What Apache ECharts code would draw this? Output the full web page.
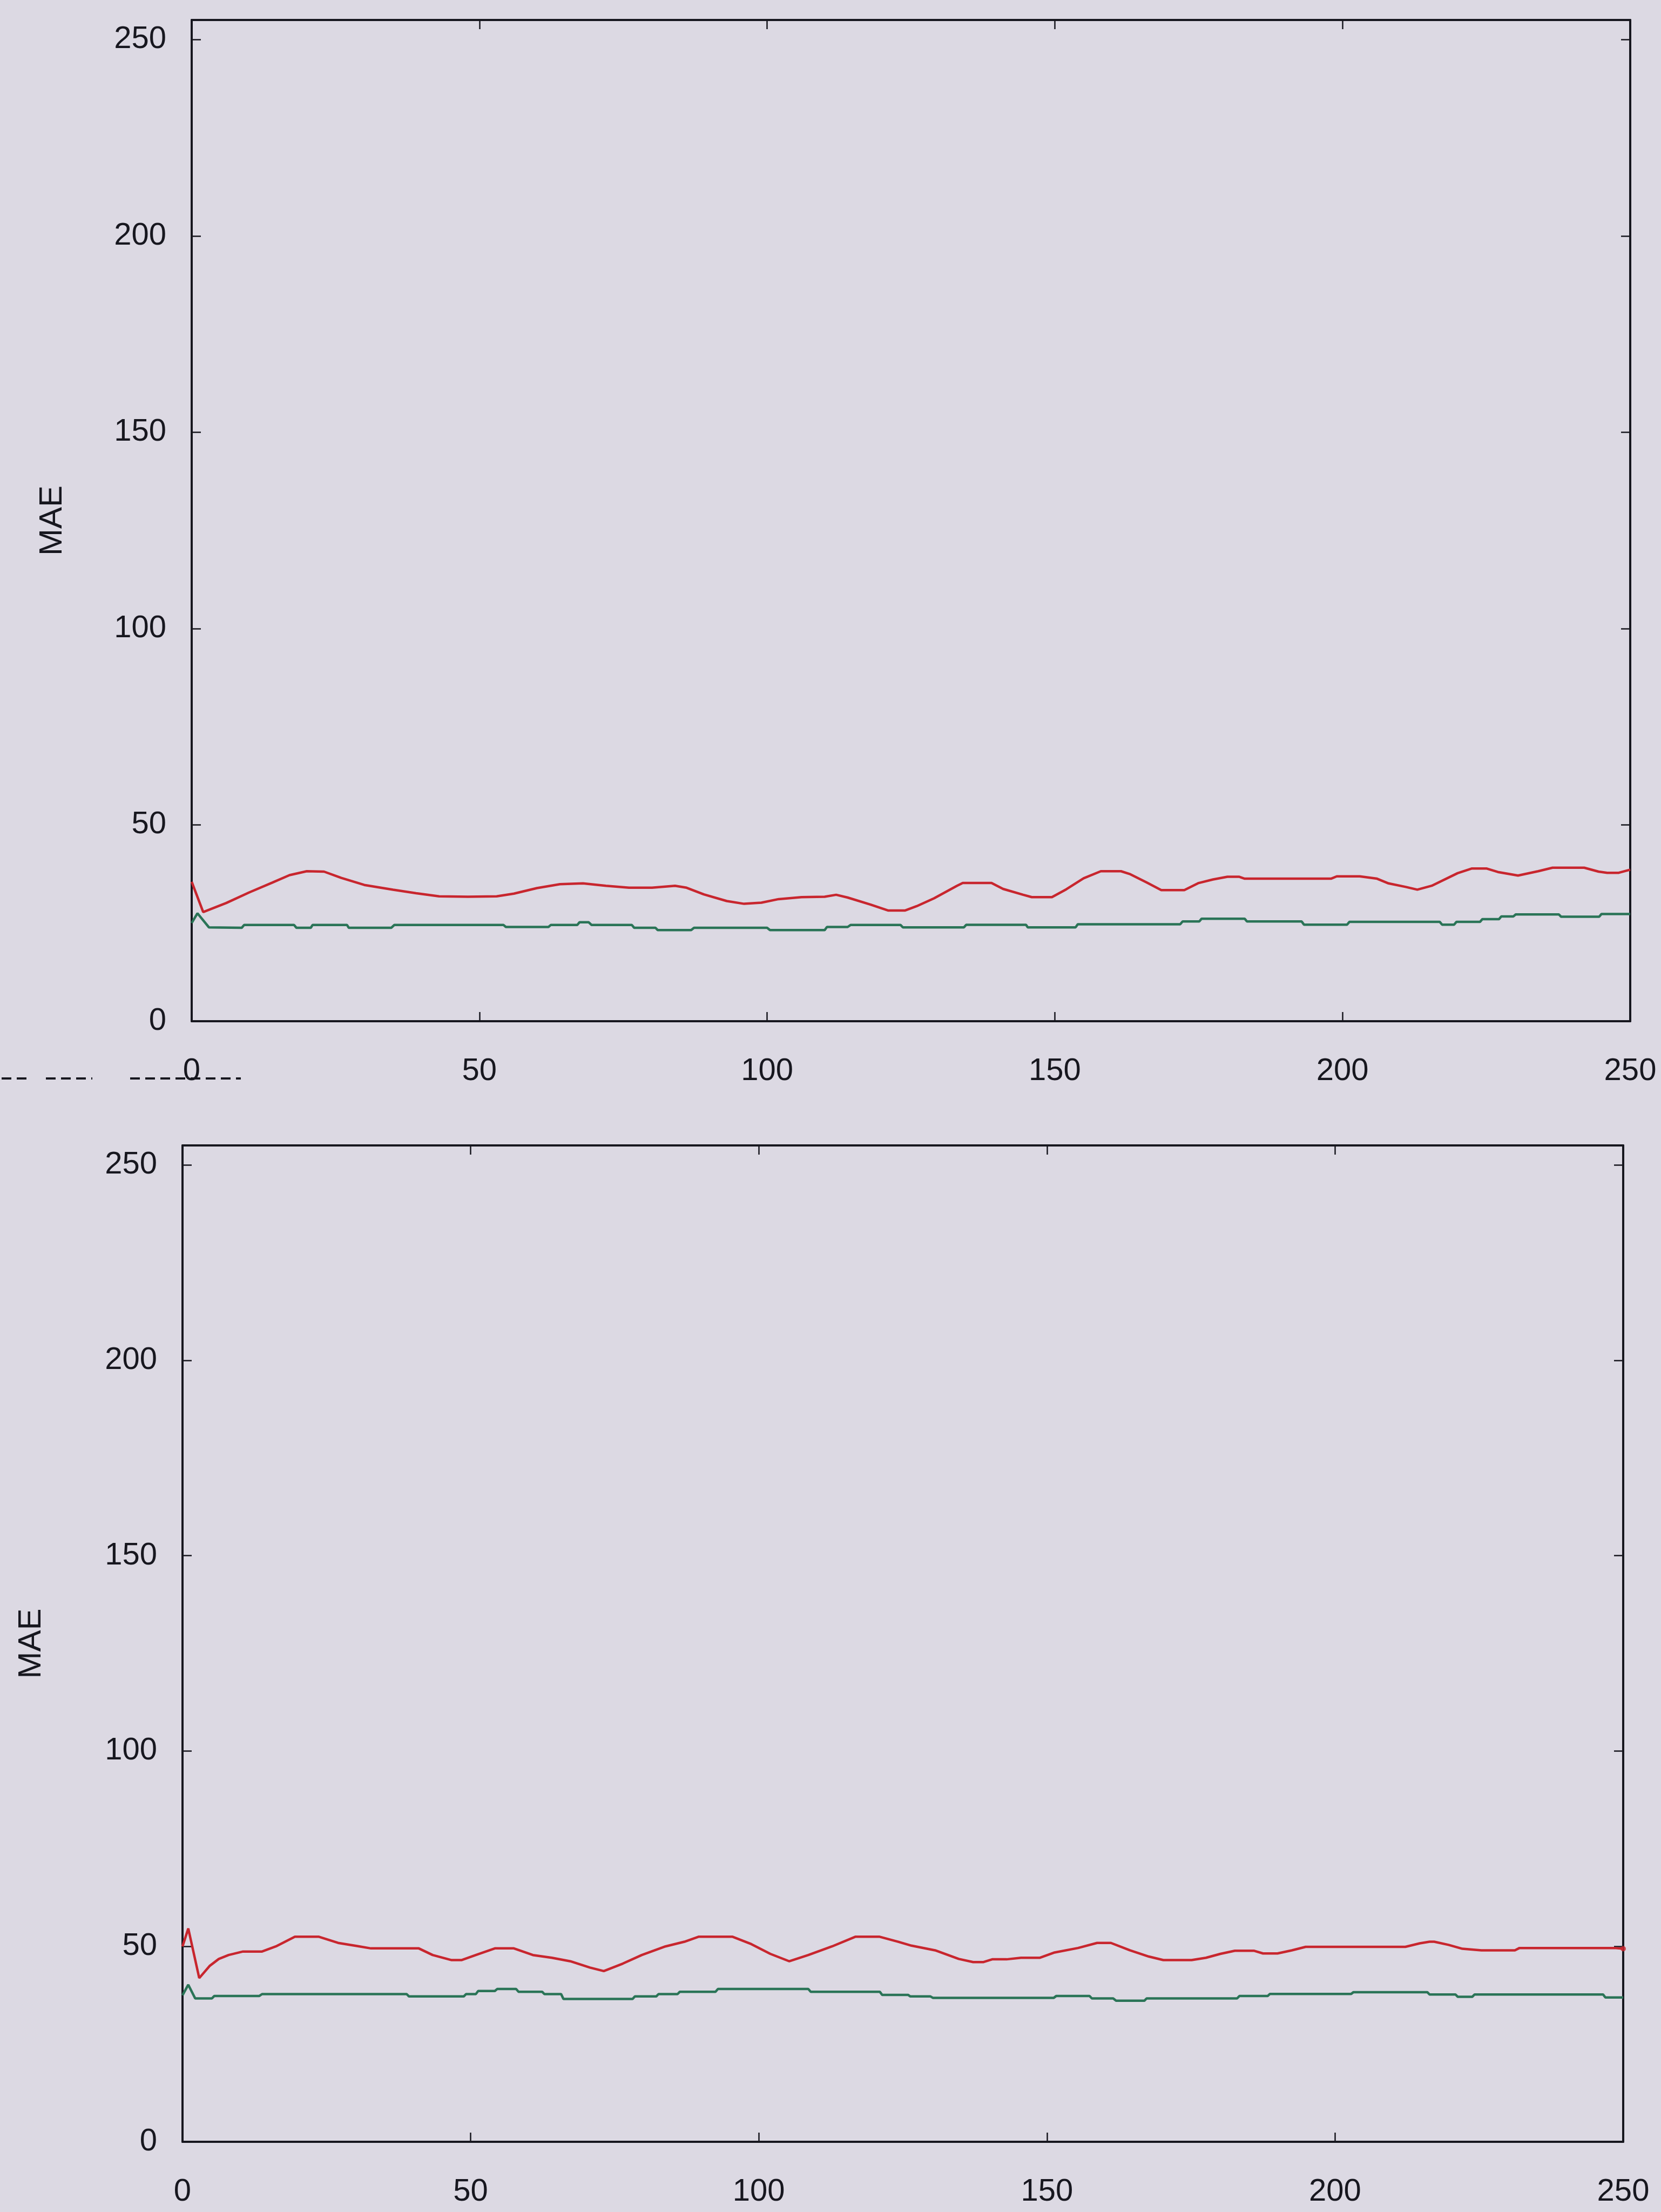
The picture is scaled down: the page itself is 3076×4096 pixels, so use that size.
<!DOCTYPE html>
<html>
<head>
<meta charset="utf-8">
<script src="https://cdn.jsdelivr.net/npm/echarts@6/dist/echarts.min.js"></script>
<style>
  html, body { margin: 0; padding: 0; background: #dcd9e3; }
  #chart { width: 3076px; height: 4096px; }
</style>
</head>
<body>
<div id="chart"></div>
<script>
// ---- data: MAE per iteration, upper panel ----
const upperRedIter = [0, 2, 6, 10, 14, 17, 20, 23, 26, 30, 35, 39, 43, 48, 53, 56, 60, 64, 68, 72, 76, 80, 84, 86, 89, 93, 96, 99, 102, 106, 110, 112, 114, 118, 121, 124, 126, 129, 133, 134, 139, 141, 144.5, 146, 149.5, 152, 155, 158, 161.5, 163, 166, 168.5, 172.5, 175, 177.5, 180, 182, 183, 198, 199, 203, 206, 208, 211, 213, 215.5, 220, 222.5, 225, 227, 230.5, 234, 236.5, 242, 244.5, 246, 248, 250];
const upperRedMae  = [35.5, 27.8, 30.1, 32.8, 35.3, 37.2, 38.2, 38.1, 36.5, 34.7, 33.5, 32.6, 31.8, 31.7, 31.8, 32.5, 33.9, 34.9, 35.1, 34.5, 34.0, 34.0, 34.5, 34.0, 32.3, 30.6, 29.9, 30.2, 31.1, 31.6, 31.7, 32.2, 31.5, 29.7, 28.2, 28.2, 29.3, 31.3, 34.5, 35.2, 35.2, 33.7, 32.2, 31.6, 31.6, 33.6, 36.4, 38.2, 38.2, 37.5, 35.3, 33.4, 33.4, 35.2, 36.1, 36.8, 36.8, 36.3, 36.3, 36.9, 36.9, 36.3, 35.1, 34.2, 33.5, 34.5, 37.7, 38.9, 38.9, 38.0, 37.1, 38.2, 39.1, 39.1, 38.1, 37.8, 37.8, 38.6];

const upperGreenIter = [0, 1, 3, 8.7, 9.1, 17.8, 18.2, 20.7, 21, 27, 27.3, 34.7, 35.2, 54.2, 54.6, 62, 62.4, 67, 67.4, 69, 69.5, 76.5, 76.9, 80.6, 81, 86.8, 87.3, 100, 100.5, 110, 110.4, 114, 114.5, 123.2, 123.6, 134.2, 134.6, 145, 145.3, 153.6, 154, 171.8, 172.2, 175.1, 175.5, 183, 183.4, 192.9, 193.3, 200.8, 201.2, 216.9, 217.3, 219.4, 219.8, 223.9, 224.3, 227.2, 227.6, 229.7, 230.1, 237.6, 238, 244.6, 245, 250];
const upperGreenMae  = [25.0, 27.5, 23.9, 23.8, 24.5, 24.5, 23.8, 23.8, 24.5, 24.5, 23.8, 23.8, 24.5, 24.5, 24.0, 24.0, 24.5, 24.5, 25.2, 25.2, 24.5, 24.5, 23.8, 23.8, 23.2, 23.2, 23.8, 23.8, 23.2, 23.2, 24.0, 24.0, 24.5, 24.5, 23.9, 23.9, 24.55, 24.55, 23.9, 23.9, 24.7, 24.7, 25.4, 25.4, 26.1, 26.1, 25.4, 25.4, 24.6, 24.6, 25.3, 25.3, 24.6, 24.6, 25.3, 25.3, 26.0, 26.0, 26.7, 26.7, 27.2, 27.2, 26.6, 26.6, 27.3, 27.3];

// ---- data: MAE per iteration, lower panel ----
const lowerRedIter = [0, 1, 2.9, 4.7, 6.3, 8, 10.5, 13.8, 16.2, 19.5, 23.6, 27, 30.3, 32.7, 41, 43.4, 46.7, 48.4, 50.9, 54.2, 57.5, 60.8, 64.1, 67.3, 70.7, 73.1, 76.4, 79.7, 83.8, 87.1, 89.6, 95.4, 98.7, 102, 105.3, 108.6, 112.7, 116.8, 120.9, 124.2, 126.5, 130.6, 134.7, 137.2, 139, 140.5, 143, 145.5, 148.8, 151.2, 155.4, 158.7, 161.1, 164.4, 167.7, 170.2, 175.1, 177.6, 180.1, 182.6, 185.9, 187.5, 190, 192.5, 194.9, 212.2, 214.7, 216.4, 217.2, 219.7, 222.1, 225.4, 231.2, 232, 248.5, 250];
const lowerRedMae  = [50.0, 54.6, 41.9, 45.0, 46.8, 47.8, 48.7, 48.7, 50.0, 52.5, 52.5, 50.9, 50.1, 49.5, 49.5, 47.8, 46.5, 46.5, 47.8, 49.5, 49.5, 47.8, 47.1, 46.2, 44.6, 43.7, 45.6, 47.8, 50.0, 51.2, 52.5, 52.5, 50.6, 48.1, 46.2, 47.8, 50.0, 52.5, 52.5, 51.2, 50.2, 49.0, 46.8, 46.0, 46.0, 46.7, 46.7, 47.1, 47.1, 48.4, 49.6, 50.9, 50.9, 49.0, 47.4, 46.5, 46.5, 47.1, 48.1, 48.9, 48.9, 48.2, 48.2, 49.0, 49.9, 49.9, 50.8, 51.2, 51.2, 50.4, 49.4, 49.0, 49.0, 49.6, 49.6, 49.4];

const lowerGreenIter = [0, 1, 2.2, 5.1, 5.5, 13.3, 13.8, 38.9, 39.3, 48.8, 49.2, 50.9, 51.3, 54.2, 54.6, 57.9, 58.3, 62.4, 62.8, 65.7, 66.1, 78.1, 78.5, 82.2, 82.6, 85.9, 86.3, 92.5, 92.9, 108.6, 109, 121, 121.4, 125.9, 126.3, 129.8, 130.2, 151.2, 151.6, 157.4, 157.8, 161.5, 162, 166.9, 167.3, 183, 183.4, 188.3, 188.7, 202.8, 203.2, 216, 216.4, 220.9, 221.3, 223.8, 224.2, 246.5, 246.9, 250];
const lowerGreenMae  = [37.5, 40.2, 36.7, 36.7, 37.3, 37.3, 37.8, 37.8, 37.2, 37.2, 37.8, 37.8, 38.6, 38.6, 39.1, 39.1, 38.4, 38.4, 37.8, 37.8, 36.55, 36.55, 37.2, 37.2, 37.8, 37.8, 38.4, 38.4, 39.1, 39.1, 38.4, 38.4, 37.6, 37.6, 37.2, 37.2, 36.85, 36.85, 37.3, 37.3, 36.7, 36.7, 36.1, 36.1, 36.7, 36.7, 37.3, 37.3, 37.85, 37.85, 38.3, 38.3, 37.7, 37.7, 37.1, 37.1, 37.7, 37.7, 36.95, 36.95];

// ---- axis settings ----
const iterMin = 0, iterMax = 250, iterStep = 50;
const maeMin = 0, maeMax = 255, maeStep = 50;
const yTitle = 'MAE';

// ---- styling ----
const FONT = "'Liberation Sans Narrow', 'Arial Narrow', 'Liberation Sans', Arial, sans-serif";
const INK = '#17171f';
const RED = '#c8262e';
const GREEN = '#2a7457';
const PAPER = '#dcd9e3';

function pairs(xs, ys) { return xs.map((x, i) => [x, ys[i]]); }

const panels = [
  { left: 355, top: 37, width: 2664, height: 1854, labelMargin: 64, nameGap: 228 },
  { left: 338, top: 2121, width: 2668, height: 1845, labelMargin: 64, nameGap: 250 }
];

const lineW = 4.5;
const tick = { show: true, inside: true, length: 17, lineStyle: { color: INK, width: 2.5 } };
const frameLine = { show: true, onZero: false, lineStyle: { color: INK, width: 4 } };

const xAxes = [], yAxes = [];
panels.forEach((p, g) => {
  const xBase = { type: 'value', gridIndex: g, min: iterMin, max: iterMax, interval: iterStep,
                  splitLine: { show: false }, axisLine: frameLine, axisTick: tick };
  xAxes.push(Object.assign({}, xBase, { position: 'bottom',
    axisLabel: { show: true, margin: p.labelMargin, fontSize: 58, fontFamily: FONT, color: INK, hideOverlap: false } }));
  xAxes.push(Object.assign({}, xBase, { position: 'top', axisLabel: { show: false } }));

  const yBase = { type: 'value', gridIndex: g, min: maeMin, max: maeMax, interval: maeStep,
                  splitLine: { show: false }, axisLine: frameLine, axisTick: tick };
  yAxes.push(Object.assign({}, yBase, { position: 'left',
    name: yTitle, nameLocation: 'middle', nameGap: p.nameGap, nameRotate: 90,
    nameTextStyle: { fontSize: 60, fontFamily: FONT, color: INK },
    axisLabel: { show: true, margin: 47, fontSize: 58, fontFamily: FONT, color: INK,
                 showMaxLabel: false, padding: [16, 0, 0, 0] } }));
  yAxes.push(Object.assign({}, yBase, { position: 'right', axisLabel: { show: false } }));
});

function lineSeries(g, xs, ys, color) {
  return {
    type: 'line', xAxisIndex: g * 2, yAxisIndex: g * 2,
    data: pairs(xs, ys), symbol: 'none', smooth: false,
    lineStyle: { color: color, width: lineW }, itemStyle: { color: color },
    animation: false, silent: true
  };
}

// dashed rule running under the first x label of the upper panel
const dashY = 1997;
const dashRuns = [[3, 54], [85, 171], [241, 446]];

const chart = echarts.init(document.getElementById('chart'), null, { renderer: 'canvas' });
chart.setOption({
  backgroundColor: PAPER,
  animation: false,
  grid: panels.map(p => ({ left: p.left, top: p.top, width: p.width, height: p.height, show: false })),
  xAxis: xAxes,
  yAxis: yAxes,
  series: [
    lineSeries(0, upperGreenIter, upperGreenMae, GREEN),
    lineSeries(0, upperRedIter, upperRedMae, RED),
    lineSeries(1, lowerGreenIter, lowerGreenMae, GREEN),
    lineSeries(1, lowerRedIter, lowerRedMae, RED),
    {
      type: 'scatter', xAxisIndex: 2, yAxisIndex: 2, symbolSize: 10,
      data: [[lowerRedIter[lowerRedIter.length - 1], lowerRedMae[lowerRedMae.length - 1]]],
      itemStyle: { color: RED }, animation: false, silent: true
    }
  ],
  graphic: dashRuns.map(r => ({
    type: 'line', silent: true,
    shape: { x1: r[0], y1: dashY, x2: r[1], y2: dashY },
    style: { stroke: INK, lineWidth: 4, lineDash: [18, 10] }
  }))
});
</script>
</body>
</html>
